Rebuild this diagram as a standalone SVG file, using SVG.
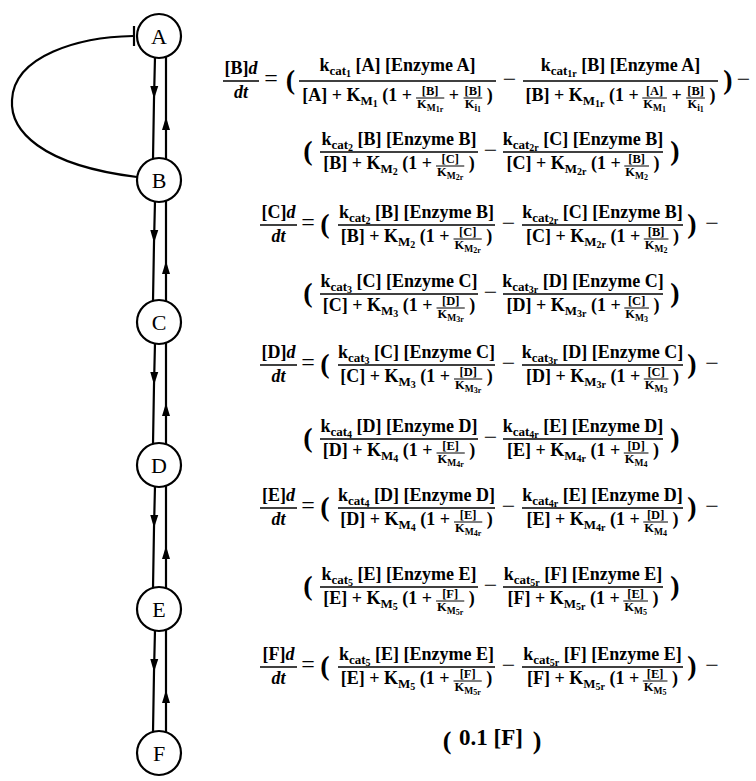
<svg xmlns="http://www.w3.org/2000/svg" width="756" height="781" viewBox="0 0 756 781">
<style>
.t{font-family:"Liberation Serif","Times New Roman",serif;font-weight:bold;font-size:18px;fill:#000}
.m{text-anchor:middle}
.s1{font-size:13px}
.s2{font-size:10px}
.f{font-family:"Liberation Serif","Times New Roman",serif;font-weight:bold;font-size:12.5px;text-anchor:middle;fill:#000}
.f1{font-size:9.5px}
.f2{font-size:8px}
.i{font-style:italic}
.p{font-family:"Liberation Serif","Times New Roman",serif;font-weight:bold;font-size:28px;text-anchor:middle;fill:#000}
.o{font-family:"Liberation Serif","Times New Roman",serif;font-size:24px;text-anchor:middle;fill:#000}
.bar{stroke:#000;stroke-width:1.4}
.sb{stroke:#000;stroke-width:1}
.e{fill:none;stroke:#000;stroke-width:2.2}
.nc{fill:#fff;stroke:#000;stroke-width:2.2}
.n{font-family:"Liberation Serif","Times New Roman",serif;font-size:22px;text-anchor:middle;fill:#000}
</style>
<defs>
<marker id="ah" markerUnits="userSpaceOnUse" markerWidth="15" markerHeight="10" refX="13" refY="5" orient="auto">
<path d="M0,1 L13,5 L0,9 Z" fill="#000"/>
</marker>
</defs>
<rect width="756" height="781" fill="#fff"/>

<g id="connectors">
<path class="e" d="M137,177 C40,165 10,130 12,100 C14,55 80,37 133,36"/>
<line class="e" x1="134" y1="26" x2="134" y2="46"/>
<path class="e" d="M155,57 L154,99 L153,159" marker-mid="url(#ah)"/>
<path class="e" d="M166,159 L166,117 L166,57" marker-mid="url(#ah)"/>
<path class="e" d="M155,201 L154,243 L153,301" marker-mid="url(#ah)"/>
<path class="e" d="M166,301 L166,261 L166,201" marker-mid="url(#ah)"/>
<path class="e" d="M155,343 L154,385 L153,444" marker-mid="url(#ah)"/>
<path class="e" d="M166,444 L166,403 L166,343" marker-mid="url(#ah)"/>
<path class="e" d="M155,486 L154,528 L153,588" marker-mid="url(#ah)"/>
<path class="e" d="M166,588 L166,546 L166,486" marker-mid="url(#ah)"/>
<path class="e" d="M155,630 L154,672 L153,732" marker-mid="url(#ah)"/>
<path class="e" d="M166,732 L166,690 L166,630" marker-mid="url(#ah)"/>
</g>

<g id="node-A"><circle class="nc" cx="159" cy="36" r="22"/><text class="n" x="159" y="44">A</text></g>
<g id="node-B"><circle class="nc" cx="159" cy="180" r="22"/><text class="n" x="159" y="188">B</text></g>
<g id="node-C"><circle class="nc" cx="159" cy="322" r="22"/><text class="n" x="159" y="330">C</text></g>
<g id="node-D"><circle class="nc" cx="159" cy="465" r="22"/><text class="n" x="159" y="473">D</text></g>
<g id="node-E"><circle class="nc" cx="159" cy="609" r="22"/><text class="n" x="159" y="617">E</text></g>
<g id="node-F"><circle class="nc" cx="159" cy="753" r="22"/><text class="n" x="159" y="761">F</text></g>

<g id="eq-B">
<text class="t m" x="241" y="74">[B]<tspan class="i">d</tspan></text>
<line class="bar" x1="223" y1="81" x2="259" y2="81"/>
<text class="t m i" x="241" y="98">dt</text>
<text class="o" x="271" y="86">=</text>
<text class="p" x="290.5" y="89">(</text>
<text class="t m" x="397.5" y="71">k<tspan class="s1" dy="4">cat</tspan><tspan class="s2" dy="2">1</tspan><tspan dy="-6"> [A] [Enzyme A]</tspan></text>
<line class="bar" x1="299" y1="81" x2="496" y2="81"/>
<text class="t" x="302.25" y="101">[A] + K<tspan class="s1" dy="4">M</tspan><tspan class="s2" dy="2">1</tspan><tspan dy="-6"> (1 +</tspan></text>
<text class="f" x="430.17" y="95">[B]</text>
<line class="sb" x1="416.04" y1="98" x2="444.29" y2="98"/>
<text class="f" x="430.17" y="108">K<tspan class="f1" dy="2.5">M</tspan><tspan class="f2" dy="1.5">1r</tspan></text>
<text class="t" x="448.79" y="101">+</text>
<text class="f" x="472.9" y="95">[B]</text>
<line class="sb" x1="463.55" y1="98" x2="482.25" y2="98"/>
<text class="f" x="472.9" y="108">K<tspan class="f1" dy="2.5">i</tspan><tspan class="f2" dy="1.5">1</tspan></text>
<text class="t" x="486.75" y="101">)</text>
<text class="o" x="509.5" y="87">−</text>
<text class="t m" x="620.5" y="71">k<tspan class="s1" dy="4">cat</tspan><tspan class="s2" dy="2">1r</tspan><tspan dy="-6"> [B] [Enzyme A]</tspan></text>
<line class="bar" x1="523" y1="81" x2="718" y2="81"/>
<text class="t" x="525.5" y="101">[B] + K<tspan class="s1" dy="4">M</tspan><tspan class="s2" dy="2">1r</tspan><tspan dy="-6"> (1 +</tspan></text>
<text class="f" x="654.6" y="95">[A]</text>
<line class="sb" x1="642.25" y1="98" x2="666.95" y2="98"/>
<text class="f" x="654.6" y="108">K<tspan class="f1" dy="2.5">M</tspan><tspan class="f2" dy="1.5">1</tspan></text>
<text class="t" x="671.46" y="101">+</text>
<text class="f" x="695.6" y="95">[B]</text>
<line class="sb" x1="686.25" y1="98" x2="704.95" y2="98"/>
<text class="f" x="695.6" y="108">K<tspan class="f1" dy="2.5">i</tspan><tspan class="f2" dy="1.5">1</tspan></text>
<text class="t" x="709.46" y="101">)</text>
<text class="p" x="728" y="89">)</text>
<text class="o" x="743.5" y="87">−</text>

<text class="p" x="308" y="160">(</text>
<text class="t m" x="399" y="145">k<tspan class="s1" dy="4">cat</tspan><tspan class="s2" dy="2">2</tspan><tspan dy="-6"> [B] [Enzyme B]</tspan></text>
<line class="bar" x1="320" y1="152" x2="478" y2="152"/>
<text class="t" x="323.23" y="169">[B] + K<tspan class="s1" dy="4">M</tspan><tspan class="s2" dy="2">2</tspan><tspan dy="-6"> (1 +</tspan></text>
<text class="f" x="450.15" y="163">[C]</text>
<line class="sb" x1="436.02" y1="166" x2="464.28" y2="166"/>
<text class="f" x="450.15" y="176">K<tspan class="f1" dy="2.5">M</tspan><tspan class="f2" dy="1.5">2r</tspan></text>
<text class="t" x="468.77" y="169">)</text>
<text class="o" x="490.5" y="158">−</text>
<text class="t m" x="583" y="145">k<tspan class="s1" dy="4">cat</tspan><tspan class="s2" dy="2">2r</tspan><tspan dy="-6"> [C] [Enzyme B]</tspan></text>
<line class="bar" x1="503" y1="152" x2="663" y2="152"/>
<text class="t" x="506.5" y="169">[C] + K<tspan class="s1" dy="4">M</tspan><tspan class="s2" dy="2">2r</tspan><tspan dy="-6"> (1 +</tspan></text>
<text class="f" x="636.64" y="163">[B]</text>
<line class="sb" x1="624.29" y1="166" x2="648.99" y2="166"/>
<text class="f" x="636.64" y="176">K<tspan class="f1" dy="2.5">M</tspan><tspan class="f2" dy="1.5">2</tspan></text>
<text class="t" x="653.49" y="169">)</text>
<text class="p" x="675" y="160">)</text>
</g>

<g id="eq-C">
<text class="t m" x="278.5" y="218">[C]<tspan class="i">d</tspan></text>
<line class="bar" x1="260" y1="225" x2="297" y2="225"/>
<text class="t m i" x="278.5" y="242">dt</text>
<text class="o" x="308" y="230">=</text>
<text class="p" x="325" y="233">(</text>
<text class="t m" x="416.5" y="218">k<tspan class="s1" dy="4">cat</tspan><tspan class="s2" dy="2">2</tspan><tspan dy="-6"> [B] [Enzyme B]</tspan></text>
<line class="bar" x1="338" y1="225" x2="495" y2="225"/>
<text class="t" x="340.73" y="242">[B] + K<tspan class="s1" dy="4">M</tspan><tspan class="s2" dy="2">2</tspan><tspan dy="-6"> (1 +</tspan></text>
<text class="f" x="467.65" y="236">[C]</text>
<line class="sb" x1="453.52" y1="239" x2="481.78" y2="239"/>
<text class="f" x="467.65" y="249">K<tspan class="f1" dy="2.5">M</tspan><tspan class="f2" dy="1.5">2r</tspan></text>
<text class="t" x="486.27" y="242">)</text>
<text class="o" x="508.5" y="231">−</text>
<text class="t m" x="602.5" y="218">k<tspan class="s1" dy="4">cat</tspan><tspan class="s2" dy="2">2r</tspan><tspan dy="-6"> [C] [Enzyme B]</tspan></text>
<line class="bar" x1="522" y1="225" x2="683" y2="225"/>
<text class="t" x="526" y="242">[C] + K<tspan class="s1" dy="4">M</tspan><tspan class="s2" dy="2">2r</tspan><tspan dy="-6"> (1 +</tspan></text>
<text class="f" x="656.14" y="236">[B]</text>
<line class="sb" x1="643.79" y1="239" x2="668.49" y2="239"/>
<text class="f" x="656.14" y="249">K<tspan class="f1" dy="2.5">M</tspan><tspan class="f2" dy="1.5">2</tspan></text>
<text class="t" x="672.99" y="242">)</text>
<text class="p" x="692" y="233">)</text>
<text class="o" x="712" y="231">−</text>

<text class="p" x="308" y="302">(</text>
<text class="t m" x="399" y="287">k<tspan class="s1" dy="4">cat</tspan><tspan class="s2" dy="2">3</tspan><tspan dy="-6"> [C] [Enzyme C]</tspan></text>
<line class="bar" x1="320" y1="294" x2="478" y2="294"/>
<text class="t" x="322.73" y="311">[C] + K<tspan class="s1" dy="4">M</tspan><tspan class="s2" dy="2">3</tspan><tspan dy="-6"> (1 +</tspan></text>
<text class="f" x="450.65" y="305">[D]</text>
<line class="sb" x1="436.52" y1="308" x2="464.78" y2="308"/>
<text class="f" x="450.65" y="318">K<tspan class="f1" dy="2.5">M</tspan><tspan class="f2" dy="1.5">3r</tspan></text>
<text class="t" x="469.27" y="311">)</text>
<text class="o" x="490.5" y="300">−</text>
<text class="t m" x="583" y="287">k<tspan class="s1" dy="4">cat</tspan><tspan class="s2" dy="2">3r</tspan><tspan dy="-6"> [D] [Enzyme C]</tspan></text>
<line class="bar" x1="503" y1="294" x2="663" y2="294"/>
<text class="t" x="506.5" y="311">[D] + K<tspan class="s1" dy="4">M</tspan><tspan class="s2" dy="2">3r</tspan><tspan dy="-6"> (1 +</tspan></text>
<text class="f" x="636.64" y="305">[C]</text>
<line class="sb" x1="624.29" y1="308" x2="648.99" y2="308"/>
<text class="f" x="636.64" y="318">K<tspan class="f1" dy="2.5">M</tspan><tspan class="f2" dy="1.5">3</tspan></text>
<text class="t" x="653.49" y="311">)</text>
<text class="p" x="675" y="302">)</text>
</g>

<g id="eq-D">
<text class="t m" x="278.5" y="358">[D]<tspan class="i">d</tspan></text>
<line class="bar" x1="260" y1="365" x2="297" y2="365"/>
<text class="t m i" x="278.5" y="382">dt</text>
<text class="o" x="308" y="370">=</text>
<text class="p" x="325" y="373">(</text>
<text class="t m" x="416.5" y="358">k<tspan class="s1" dy="4">cat</tspan><tspan class="s2" dy="2">3</tspan><tspan dy="-6"> [C] [Enzyme C]</tspan></text>
<line class="bar" x1="338" y1="365" x2="495" y2="365"/>
<text class="t" x="340.23" y="382">[C] + K<tspan class="s1" dy="4">M</tspan><tspan class="s2" dy="2">3</tspan><tspan dy="-6"> (1 +</tspan></text>
<text class="f" x="468.15" y="376">[D]</text>
<line class="sb" x1="454.02" y1="379" x2="482.28" y2="379"/>
<text class="f" x="468.15" y="389">K<tspan class="f1" dy="2.5">M</tspan><tspan class="f2" dy="1.5">3r</tspan></text>
<text class="t" x="486.77" y="382">)</text>
<text class="o" x="508.5" y="371">−</text>
<text class="t m" x="602.5" y="358">k<tspan class="s1" dy="4">cat</tspan><tspan class="s2" dy="2">3r</tspan><tspan dy="-6"> [D] [Enzyme C]</tspan></text>
<line class="bar" x1="522" y1="365" x2="683" y2="365"/>
<text class="t" x="526" y="382">[D] + K<tspan class="s1" dy="4">M</tspan><tspan class="s2" dy="2">3r</tspan><tspan dy="-6"> (1 +</tspan></text>
<text class="f" x="656.14" y="376">[C]</text>
<line class="sb" x1="643.79" y1="379" x2="668.49" y2="379"/>
<text class="f" x="656.14" y="389">K<tspan class="f1" dy="2.5">M</tspan><tspan class="f2" dy="1.5">3</tspan></text>
<text class="t" x="672.99" y="382">)</text>
<text class="p" x="692" y="373">)</text>
<text class="o" x="712" y="371">−</text>

<text class="p" x="308" y="447">(</text>
<text class="t m" x="399" y="432">k<tspan class="s1" dy="4">cat</tspan><tspan class="s2" dy="2">4</tspan><tspan dy="-6"> [D] [Enzyme D]</tspan></text>
<line class="bar" x1="320" y1="439" x2="478" y2="439"/>
<text class="t" x="322.73" y="456">[D] + K<tspan class="s1" dy="4">M</tspan><tspan class="s2" dy="2">4</tspan><tspan dy="-6"> (1 +</tspan></text>
<text class="f" x="450.65" y="450">[E]</text>
<line class="sb" x1="436.52" y1="453" x2="464.78" y2="453"/>
<text class="f" x="450.65" y="463">K<tspan class="f1" dy="2.5">M</tspan><tspan class="f2" dy="1.5">4r</tspan></text>
<text class="t" x="469.27" y="456">)</text>
<text class="o" x="490.5" y="445">−</text>
<text class="t m" x="583" y="432">k<tspan class="s1" dy="4">cat</tspan><tspan class="s2" dy="2">4r</tspan><tspan dy="-6"> [E] [Enzyme D]</tspan></text>
<line class="bar" x1="503" y1="439" x2="663" y2="439"/>
<text class="t" x="507" y="456">[E] + K<tspan class="s1" dy="4">M</tspan><tspan class="s2" dy="2">4r</tspan><tspan dy="-6"> (1 +</tspan></text>
<text class="f" x="636.14" y="450">[D]</text>
<line class="sb" x1="623.79" y1="453" x2="648.49" y2="453"/>
<text class="f" x="636.14" y="463">K<tspan class="f1" dy="2.5">M</tspan><tspan class="f2" dy="1.5">4</tspan></text>
<text class="t" x="652.99" y="456">)</text>
<text class="p" x="675" y="447">)</text>
</g>

<g id="eq-E">
<text class="t m" x="278.5" y="501">[E]<tspan class="i">d</tspan></text>
<line class="bar" x1="260" y1="508" x2="297" y2="508"/>
<text class="t m i" x="278.5" y="525">dt</text>
<text class="o" x="308" y="513">=</text>
<text class="p" x="325" y="516">(</text>
<text class="t m" x="416.5" y="501">k<tspan class="s1" dy="4">cat</tspan><tspan class="s2" dy="2">4</tspan><tspan dy="-6"> [D] [Enzyme D]</tspan></text>
<line class="bar" x1="338" y1="508" x2="495" y2="508"/>
<text class="t" x="340.23" y="525">[D] + K<tspan class="s1" dy="4">M</tspan><tspan class="s2" dy="2">4</tspan><tspan dy="-6"> (1 +</tspan></text>
<text class="f" x="468.15" y="519">[E]</text>
<line class="sb" x1="454.02" y1="522" x2="482.28" y2="522"/>
<text class="f" x="468.15" y="532">K<tspan class="f1" dy="2.5">M</tspan><tspan class="f2" dy="1.5">4r</tspan></text>
<text class="t" x="486.77" y="525">)</text>
<text class="o" x="508.5" y="514">−</text>
<text class="t m" x="602.5" y="501">k<tspan class="s1" dy="4">cat</tspan><tspan class="s2" dy="2">4r</tspan><tspan dy="-6"> [E] [Enzyme D]</tspan></text>
<line class="bar" x1="522" y1="508" x2="683" y2="508"/>
<text class="t" x="526.5" y="525">[E] + K<tspan class="s1" dy="4">M</tspan><tspan class="s2" dy="2">4r</tspan><tspan dy="-6"> (1 +</tspan></text>
<text class="f" x="655.64" y="519">[D]</text>
<line class="sb" x1="643.29" y1="522" x2="667.99" y2="522"/>
<text class="f" x="655.64" y="532">K<tspan class="f1" dy="2.5">M</tspan><tspan class="f2" dy="1.5">4</tspan></text>
<text class="t" x="672.49" y="525">)</text>
<text class="p" x="692" y="516">)</text>
<text class="o" x="712" y="514">−</text>

<text class="p" x="308" y="595">(</text>
<text class="t m" x="399" y="580">k<tspan class="s1" dy="4">cat</tspan><tspan class="s2" dy="2">5</tspan><tspan dy="-6"> [E] [Enzyme E]</tspan></text>
<line class="bar" x1="320" y1="587" x2="478" y2="587"/>
<text class="t" x="323.23" y="604">[E] + K<tspan class="s1" dy="4">M</tspan><tspan class="s2" dy="2">5</tspan><tspan dy="-6"> (1 +</tspan></text>
<text class="f" x="450.15" y="598">[F]</text>
<line class="sb" x1="436.02" y1="601" x2="464.28" y2="601"/>
<text class="f" x="450.15" y="611">K<tspan class="f1" dy="2.5">M</tspan><tspan class="f2" dy="1.5">5r</tspan></text>
<text class="t" x="468.77" y="604">)</text>
<text class="o" x="490.5" y="593">−</text>
<text class="t m" x="583" y="580">k<tspan class="s1" dy="4">cat</tspan><tspan class="s2" dy="2">5r</tspan><tspan dy="-6"> [F] [Enzyme E]</tspan></text>
<line class="bar" x1="503" y1="587" x2="663" y2="587"/>
<text class="t" x="507.5" y="604">[F] + K<tspan class="s1" dy="4">M</tspan><tspan class="s2" dy="2">5r</tspan><tspan dy="-6"> (1 +</tspan></text>
<text class="f" x="635.64" y="598">[E]</text>
<line class="sb" x1="623.29" y1="601" x2="647.99" y2="601"/>
<text class="f" x="635.64" y="611">K<tspan class="f1" dy="2.5">M</tspan><tspan class="f2" dy="1.5">5</tspan></text>
<text class="t" x="652.49" y="604">)</text>
<text class="p" x="675" y="595">)</text>
</g>

<g id="eq-F">
<text class="t m" x="278.5" y="660">[F]<tspan class="i">d</tspan></text>
<line class="bar" x1="260" y1="667" x2="297" y2="667"/>
<text class="t m i" x="278.5" y="684">dt</text>
<text class="o" x="308" y="672">=</text>
<text class="p" x="325" y="675">(</text>
<text class="t m" x="416.5" y="660">k<tspan class="s1" dy="4">cat</tspan><tspan class="s2" dy="2">5</tspan><tspan dy="-6"> [E] [Enzyme E]</tspan></text>
<line class="bar" x1="338" y1="667" x2="495" y2="667"/>
<text class="t" x="340.73" y="684">[E] + K<tspan class="s1" dy="4">M</tspan><tspan class="s2" dy="2">5</tspan><tspan dy="-6"> (1 +</tspan></text>
<text class="f" x="467.65" y="678">[F]</text>
<line class="sb" x1="453.52" y1="681" x2="481.78" y2="681"/>
<text class="f" x="467.65" y="691">K<tspan class="f1" dy="2.5">M</tspan><tspan class="f2" dy="1.5">5r</tspan></text>
<text class="t" x="486.27" y="684">)</text>
<text class="o" x="508.5" y="673">−</text>
<text class="t m" x="602.5" y="660">k<tspan class="s1" dy="4">cat</tspan><tspan class="s2" dy="2">5r</tspan><tspan dy="-6"> [F] [Enzyme E]</tspan></text>
<line class="bar" x1="522" y1="667" x2="683" y2="667"/>
<text class="t" x="527" y="684">[F] + K<tspan class="s1" dy="4">M</tspan><tspan class="s2" dy="2">5r</tspan><tspan dy="-6"> (1 +</tspan></text>
<text class="f" x="655.14" y="678">[E]</text>
<line class="sb" x1="642.79" y1="681" x2="667.49" y2="681"/>
<text class="f" x="655.14" y="691">K<tspan class="f1" dy="2.5">M</tspan><tspan class="f2" dy="1.5">5</tspan></text>
<text class="t" x="671.99" y="684">)</text>
<text class="p" x="692" y="675">)</text>
<text class="o" x="712" y="673">−</text>

<text class="p" x="447" y="749" style="font-size:26px">(</text>
<text class="t m" x="491" y="745" style="font-size:23px">0.1 [F]</text>
<text class="p" x="537" y="749" style="font-size:26px">)</text>
</g>
</svg>
